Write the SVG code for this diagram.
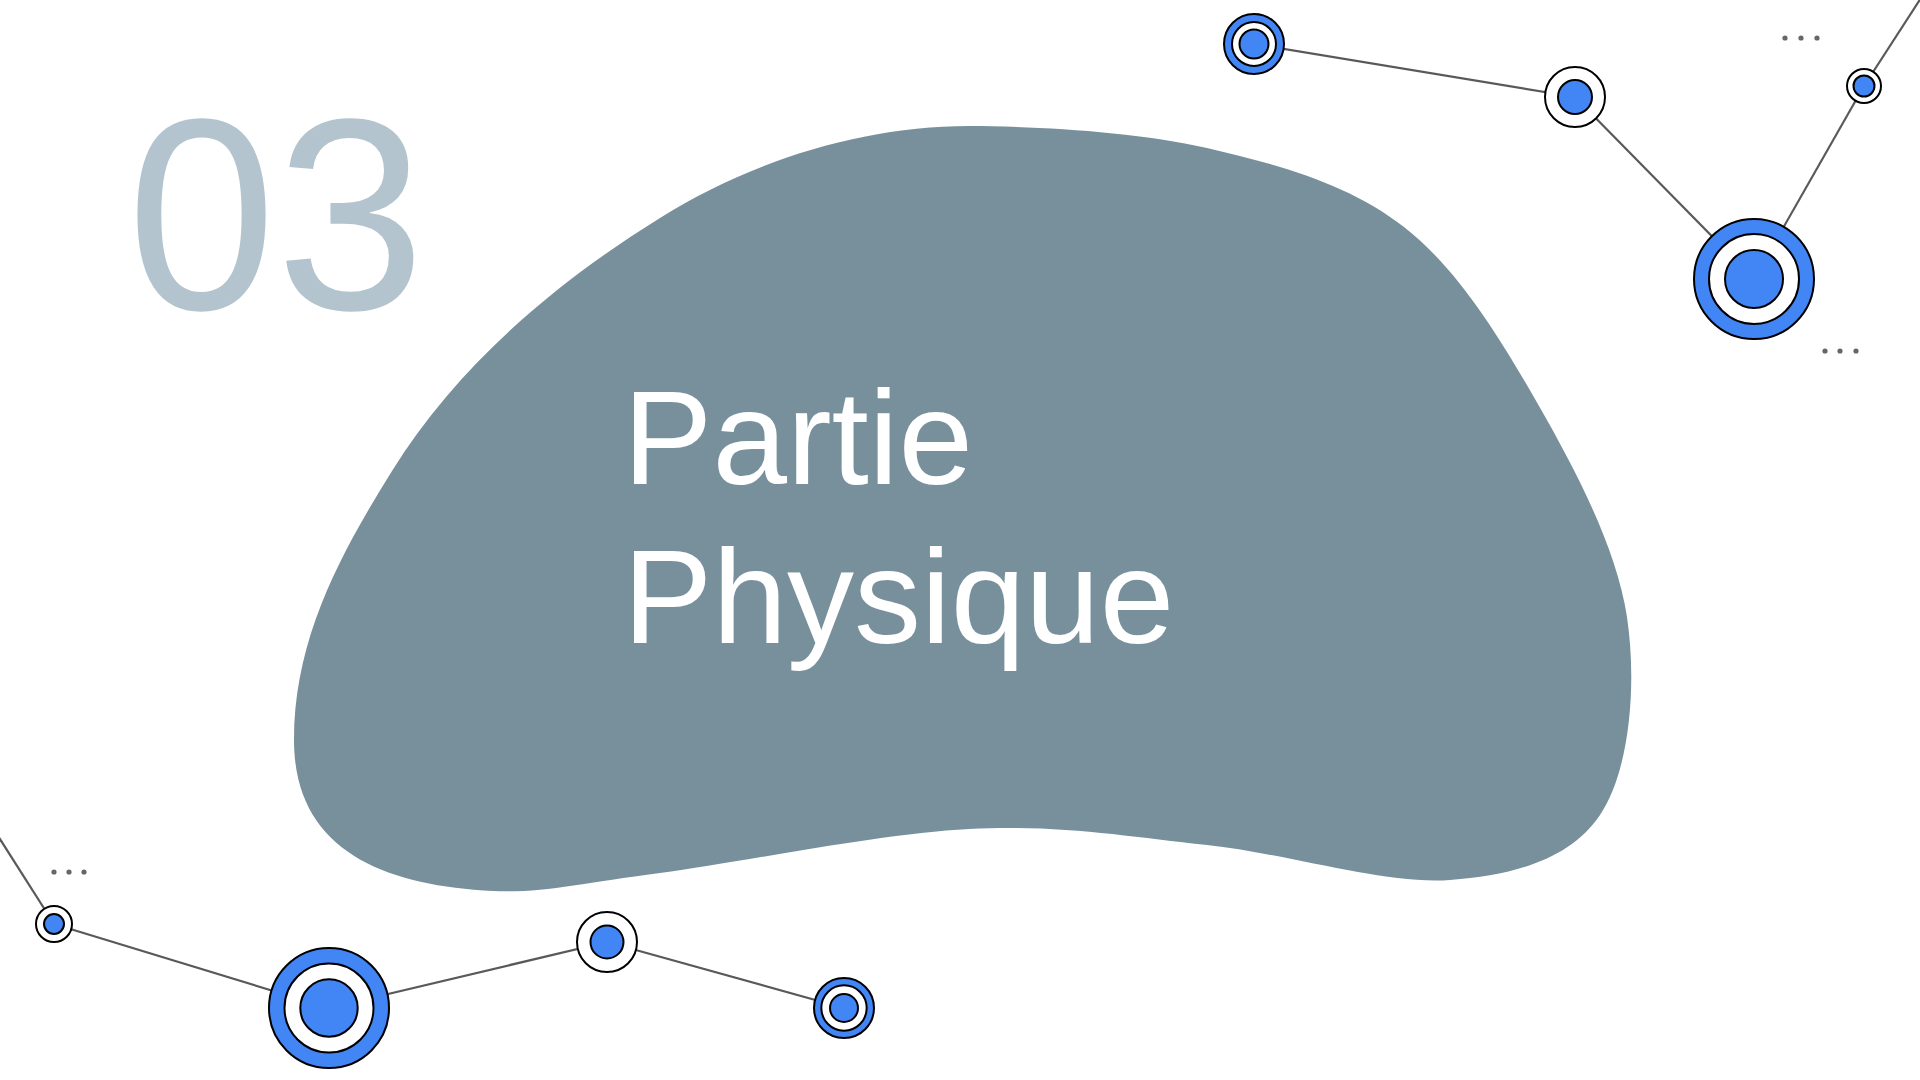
<svg xmlns="http://www.w3.org/2000/svg" width="1920" height="1080" viewBox="0 0 1920 1080">
<style>
.blue{fill:#4285f4;stroke:#000;stroke-width:2}
.white{fill:#fff;stroke:#000;stroke-width:2}
.link{stroke:#595959;stroke-width:2.2;fill:none}
.dot{fill:#666}
.title{font-family:"Liberation Sans",Arial,sans-serif;fill:#fff;font-size:134px}
.num{font-family:"Liberation Sans",Arial,sans-serif;fill:#b3c4cf;font-size:268px}
</style>
<rect width="1920" height="1080" fill="#fff"/>
<g id="blob">
<path fill="#78909c" d="M969,126 C1034.5,126.2 1134.5,131.2 1207,148 C1279.5,164.8 1348.7,184 1404,227 C1459.3,270 1501.8,341 1539,406 C1576.2,471 1616.8,548.8 1627,617 C1637.2,685.2 1629.5,771.2 1600,815 C1570.5,858.8 1515.5,875 1450,880 C1384.5,885 1287.2,853.5 1207,845 C1126.8,836.5 1060.2,824.3 969,829 C877.8,833.7 739.3,862.7 660,873 C580.7,883.3 543,893.3 493,891 C383,885.5 294,850 294,740 C294,640 339,556 392,471 C457,366 555,283 660,218 C751,161 862,126 969,126 Z"/>
</g>
<g id="number"><text class="num" transform="translate(127,309) scale(1,1.02)" x="0" y="0">03</text></g>
<g id="title">
<text class="title" x="623" y="484">Partie</text>
<text class="title" x="623" y="643">Physique</text>
</g>
<g id="connectors">
<line class="link" x1="1254" y1="44" x2="1575" y2="97"/>
<line class="link" x1="1575" y1="97" x2="1754" y2="279"/>
<line class="link" x1="1754" y1="279" x2="1864" y2="86"/>
<line class="link" x1="1864" y1="86" x2="1921" y2="-2"/>
<line class="link" x1="-2" y1="836" x2="54" y2="924"/>
<line class="link" x1="54" y1="924" x2="329" y2="1008"/>
<line class="link" x1="329" y1="1008" x2="607" y2="942"/>
<line class="link" x1="607" y1="942" x2="844" y2="1008"/>
</g>
<g id="dots">
<circle class="dot" cx="1785" cy="38" r="2.6"/><circle class="dot" cx="1801" cy="38" r="2.6"/><circle class="dot" cx="1817" cy="38" r="2.6"/>
<circle class="dot" cx="1825" cy="351" r="2.6"/><circle class="dot" cx="1840" cy="351" r="2.6"/><circle class="dot" cx="1856" cy="351" r="2.6"/>
<circle class="dot" cx="54" cy="872" r="2.6"/><circle class="dot" cx="69" cy="872" r="2.6"/><circle class="dot" cx="84" cy="872" r="2.6"/>
</g>
<g id="node-a"><circle class="blue" cx="1254" cy="44" r="30"/><circle class="white" cx="1254" cy="44" r="22"/><circle class="blue" cx="1254" cy="44" r="14.5"/></g>
<g id="node-b"><circle class="white" cx="1575" cy="97" r="30"/><circle class="blue" cx="1575" cy="97" r="17"/></g>
<g id="node-c"><circle class="blue" cx="1754" cy="279" r="60"/><circle class="white" cx="1754" cy="279" r="45"/><circle class="blue" cx="1754" cy="279" r="29"/></g>
<g id="node-d"><circle class="white" cx="1864" cy="86" r="17"/><circle class="blue" cx="1864" cy="86" r="10.5"/></g>
<g id="node-e"><circle class="white" cx="54" cy="924" r="18"/><circle class="blue" cx="54" cy="924" r="10"/></g>
<g id="node-f"><circle class="blue" cx="329" cy="1008" r="60"/><circle class="white" cx="329" cy="1008" r="44.5"/><circle class="blue" cx="329" cy="1008" r="28.7"/></g>
<g id="node-g"><circle class="white" cx="607" cy="942" r="30"/><circle class="blue" cx="607" cy="942" r="16.5"/></g>
<g id="node-h"><circle class="blue" cx="844" cy="1008" r="30"/><circle class="white" cx="844" cy="1008" r="22.7"/><circle class="blue" cx="844" cy="1008" r="14"/></g>
</svg>
